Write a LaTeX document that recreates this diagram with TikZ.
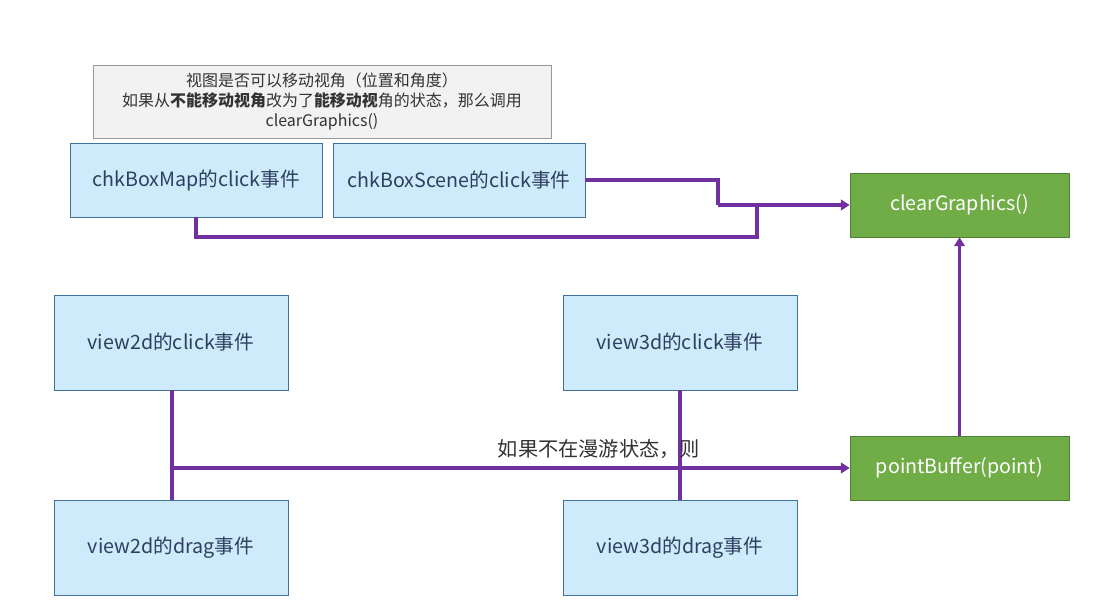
\documentclass[tikz,border=0pt]{standalone}
\usepackage{fontspec}
\setmainfont{Noto Sans CJK SC}
\usetikzlibrary{arrows.meta}
\definecolor{boxfill}{HTML}{CDEBFB}
\definecolor{boxline}{HTML}{41719C}
\definecolor{boxtext}{HTML}{2F3F5F}
\definecolor{fnfill}{HTML}{70AD47}
\definecolor{fnline}{HTML}{507E32}
\definecolor{link}{HTML}{7030A0}
\definecolor{notefill}{HTML}{F2F2F2}
\tikzset{
  evt/.style={draw=boxline,fill=boxfill,text=boxtext,inner sep=0pt,font=\fontsize{11.2}{13}\selectfont},
  fn/.style={draw=fnline,fill=fnfill,text=white,inner sep=0pt,minimum width=4.38cm,minimum height=1.28cm,font=\fontsize{11.2}{13}\selectfont},
  note/.style={draw=gray!80,fill=notefill,text=black!80,inner sep=0pt,minimum width=9.16cm,minimum height=1.46cm,align=center,font=\fontsize{9.1}{11.4}\selectfont},
  wire/.style={link,line width=2pt},
  tip/.style={wire,-{Triangle[length=5pt,width=6pt]}}
}
\begin{document}
\begin{tikzpicture}[x=0.02cm,y=-0.02cm]
\useasboundingbox (0,0) rectangle (1101,614);
% note
\node[note] (hint) at (322,101.5){视图是否可以移动视角（位置和角度）\\如果从\textbf{不能移动视角}改为了\textbf{能移动视}角的状态，那么调用\\clearGraphics()};
% checkboxes
\node[evt,minimum width=5.04cm,minimum height=1.48cm] (map) at (196,180){chkBoxMap的click事件};
\node[evt,minimum width=5.04cm,minimum height=1.48cm] (scene) at (459,180){chkBoxScene的click事件};
% views
\node[evt,minimum width=4.68cm,minimum height=1.9cm] (v2c) at (171,342.5){view2d的click事件};
\node[evt,minimum width=4.68cm,minimum height=1.9cm] (v3c) at (680,342.5){view3d的click事件};
\node[evt,minimum width=4.68cm,minimum height=1.9cm] (v2d) at (171,547.5){view2d的drag事件};
\node[evt,minimum width=4.68cm,minimum height=1.9cm] (v3d) at (680,547.5){view3d的drag事件};
% functions
\node[fn] (clear) at (959.5,205){clearGraphics()};
\node[fn] (buf) at (959.5,468){pointBuffer(point)};
% links
\coordinate (j1) at (718,205);
\coordinate (j2) at (757,205);
\coordinate (j3) at (172,468);
\draw[wire] (scene.east) -| (j1);
\draw[tip] (j1) -- (clear.west);
\draw[wire] (map.south) |- (757,237) -- (j2);
\draw[wire] (v2c.south -| j3) -- (v2d.north -| j3);
\draw[wire] (v3c.south) -- (v3d.north);
\draw[tip] (j3) -- node[pos=0.63,above=1pt,text=black!80,font=\fontsize{11.5}{13}\selectfont]{如果不在漫游状态，则} (buf.west);
\draw[tip] (buf.north) -- (clear.south);
\end{tikzpicture}
\end{document}
